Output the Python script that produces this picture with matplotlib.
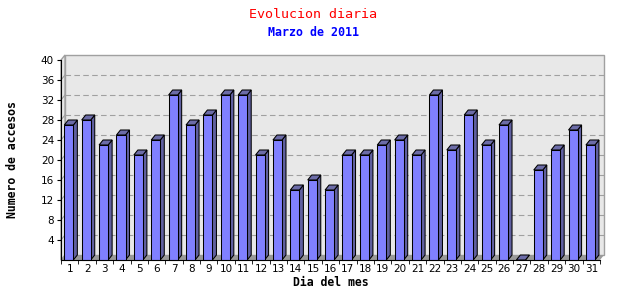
import matplotlib
matplotlib.use("Agg")
import matplotlib.pyplot as plt
from matplotlib.patches import Polygon

dias = list(range(1, 32))
accesos = [27, 28, 23, 25, 21, 24, 33, 27, 29, 33, 33, 21, 24, 14, 16, 14,
           21, 21, 23, 24, 21, 33, 22, 29, 23, 27, 0, 18, 22, 26, 23]
yticks = [4, 8, 12, 16, 20, 24, 28, 32, 36, 40]

DX = 0.23   # depth offset in x (data units)
DY = 1.0    # depth offset in y (data units)
WALL = "#e8e8e8"
EDGE = "#a0a0a0"

fig = plt.figure(figsize=(6.4, 3.0), dpi=100)
ax = fig.add_axes([61 / 640, 40 / 300, 539 / 640, 200 / 300])
ax.set_xlim(0.5, 31.5)
ax.set_ylim(0, 40)
ax.set_facecolor("none")

x0, x1 = 0.5, 31.5
# back wall + left side wall + floor
ax.add_patch(Polygon([(x0 + DX, DY), (x1 + DX, DY), (x1 + DX, 40 + DY), (x0 + DX, 40 + DY)],
                     closed=True, fc=WALL, ec=EDGE, lw=1, clip_on=False, zorder=0))
ax.add_patch(Polygon([(x0, 0), (x0 + DX, DY), (x0 + DX, 40 + DY), (x0, 40)],
                     closed=True, fc=WALL, ec=EDGE, lw=1, clip_on=False, zorder=0))
ax.add_patch(Polygon([(x0, 0), (x1, 0), (x1 + DX, DY), (x0 + DX, DY)],
                     closed=True, fc="#999999", ec="none", clip_on=False, zorder=0.5))

for v in yticks[:-1]:
    ax.plot([x0 + DX, x1 + DX], [v + DY, v + DY], color=EDGE, lw=0.8,
            ls=(0, (5, 3)), zorder=0.6, clip_on=False)
    ax.plot([x0, x0 + DX], [v, v + DY], color=EDGE, lw=0.8, zorder=0.6, clip_on=False)

# 3d bars
for d, v in zip(dias, accesos):
    l = d - 0.31
    r = d + 0.21
    ax.add_patch(Polygon([(r, 0), (r + DX, DY), (r + DX, v + DY), (r, v)],
                         closed=True, fc="#6060a0", ec="black", lw=0.75, zorder=2, clip_on=False))
    ax.add_patch(Polygon([(l, v), (r, v), (r + DX, v + DY), (l + DX, v + DY)],
                         closed=True, fc="#6c6ca8", ec="black", lw=0.75, zorder=2, clip_on=False))
    if v > 0:
        ax.add_patch(Polygon([(l, 0), (r, 0), (r, v), (l, v)],
                             closed=True, fc="#8080ff", ec="black", lw=0.75, zorder=3, clip_on=False))

for s in ["top", "right"]:
    ax.spines[s].set_visible(False)
ax.spines["left"].set_zorder(4)
ax.spines["bottom"].set_zorder(4)

ax.set_yticks(yticks)
ax.set_yticklabels([str(t) for t in yticks], fontsize=7.5, family="DejaVu Sans")
ax.set_xticks(dias)
ax.set_xticklabels([str(d) for d in dias], fontsize=7.5, family="DejaVu Sans")
ax.set_xticks([d + 0.5 for d in range(0, 32)], minor=True)
ax.tick_params(axis="x", which="major", length=0, pad=3)
ax.tick_params(axis="x", which="minor", length=3, direction="out")
ax.tick_params(axis="y", length=3, direction="out", pad=2)

ax.set_xlabel("Dia del mes", fontsize=8.3, family="DejaVu Sans Mono",
              fontweight="bold", labelpad=1)
ax.set_ylabel("Numero de accesos", fontsize=8.3, family="DejaVu Sans Mono",
              fontweight="bold", labelpad=16)

fig.text(313 / 640, 1 - 14 / 300, "Evolucion diaria", color="red", fontsize=9.6,
         family="DejaVu Sans Mono", ha="center", va="center")
fig.text(313 / 640, 1 - 32 / 300, "Marzo de 2011", color="blue", fontsize=8.4,
         family="DejaVu Sans Mono", fontweight="bold", ha="center", va="center")

fig.savefig("out.png", dpi=100)
